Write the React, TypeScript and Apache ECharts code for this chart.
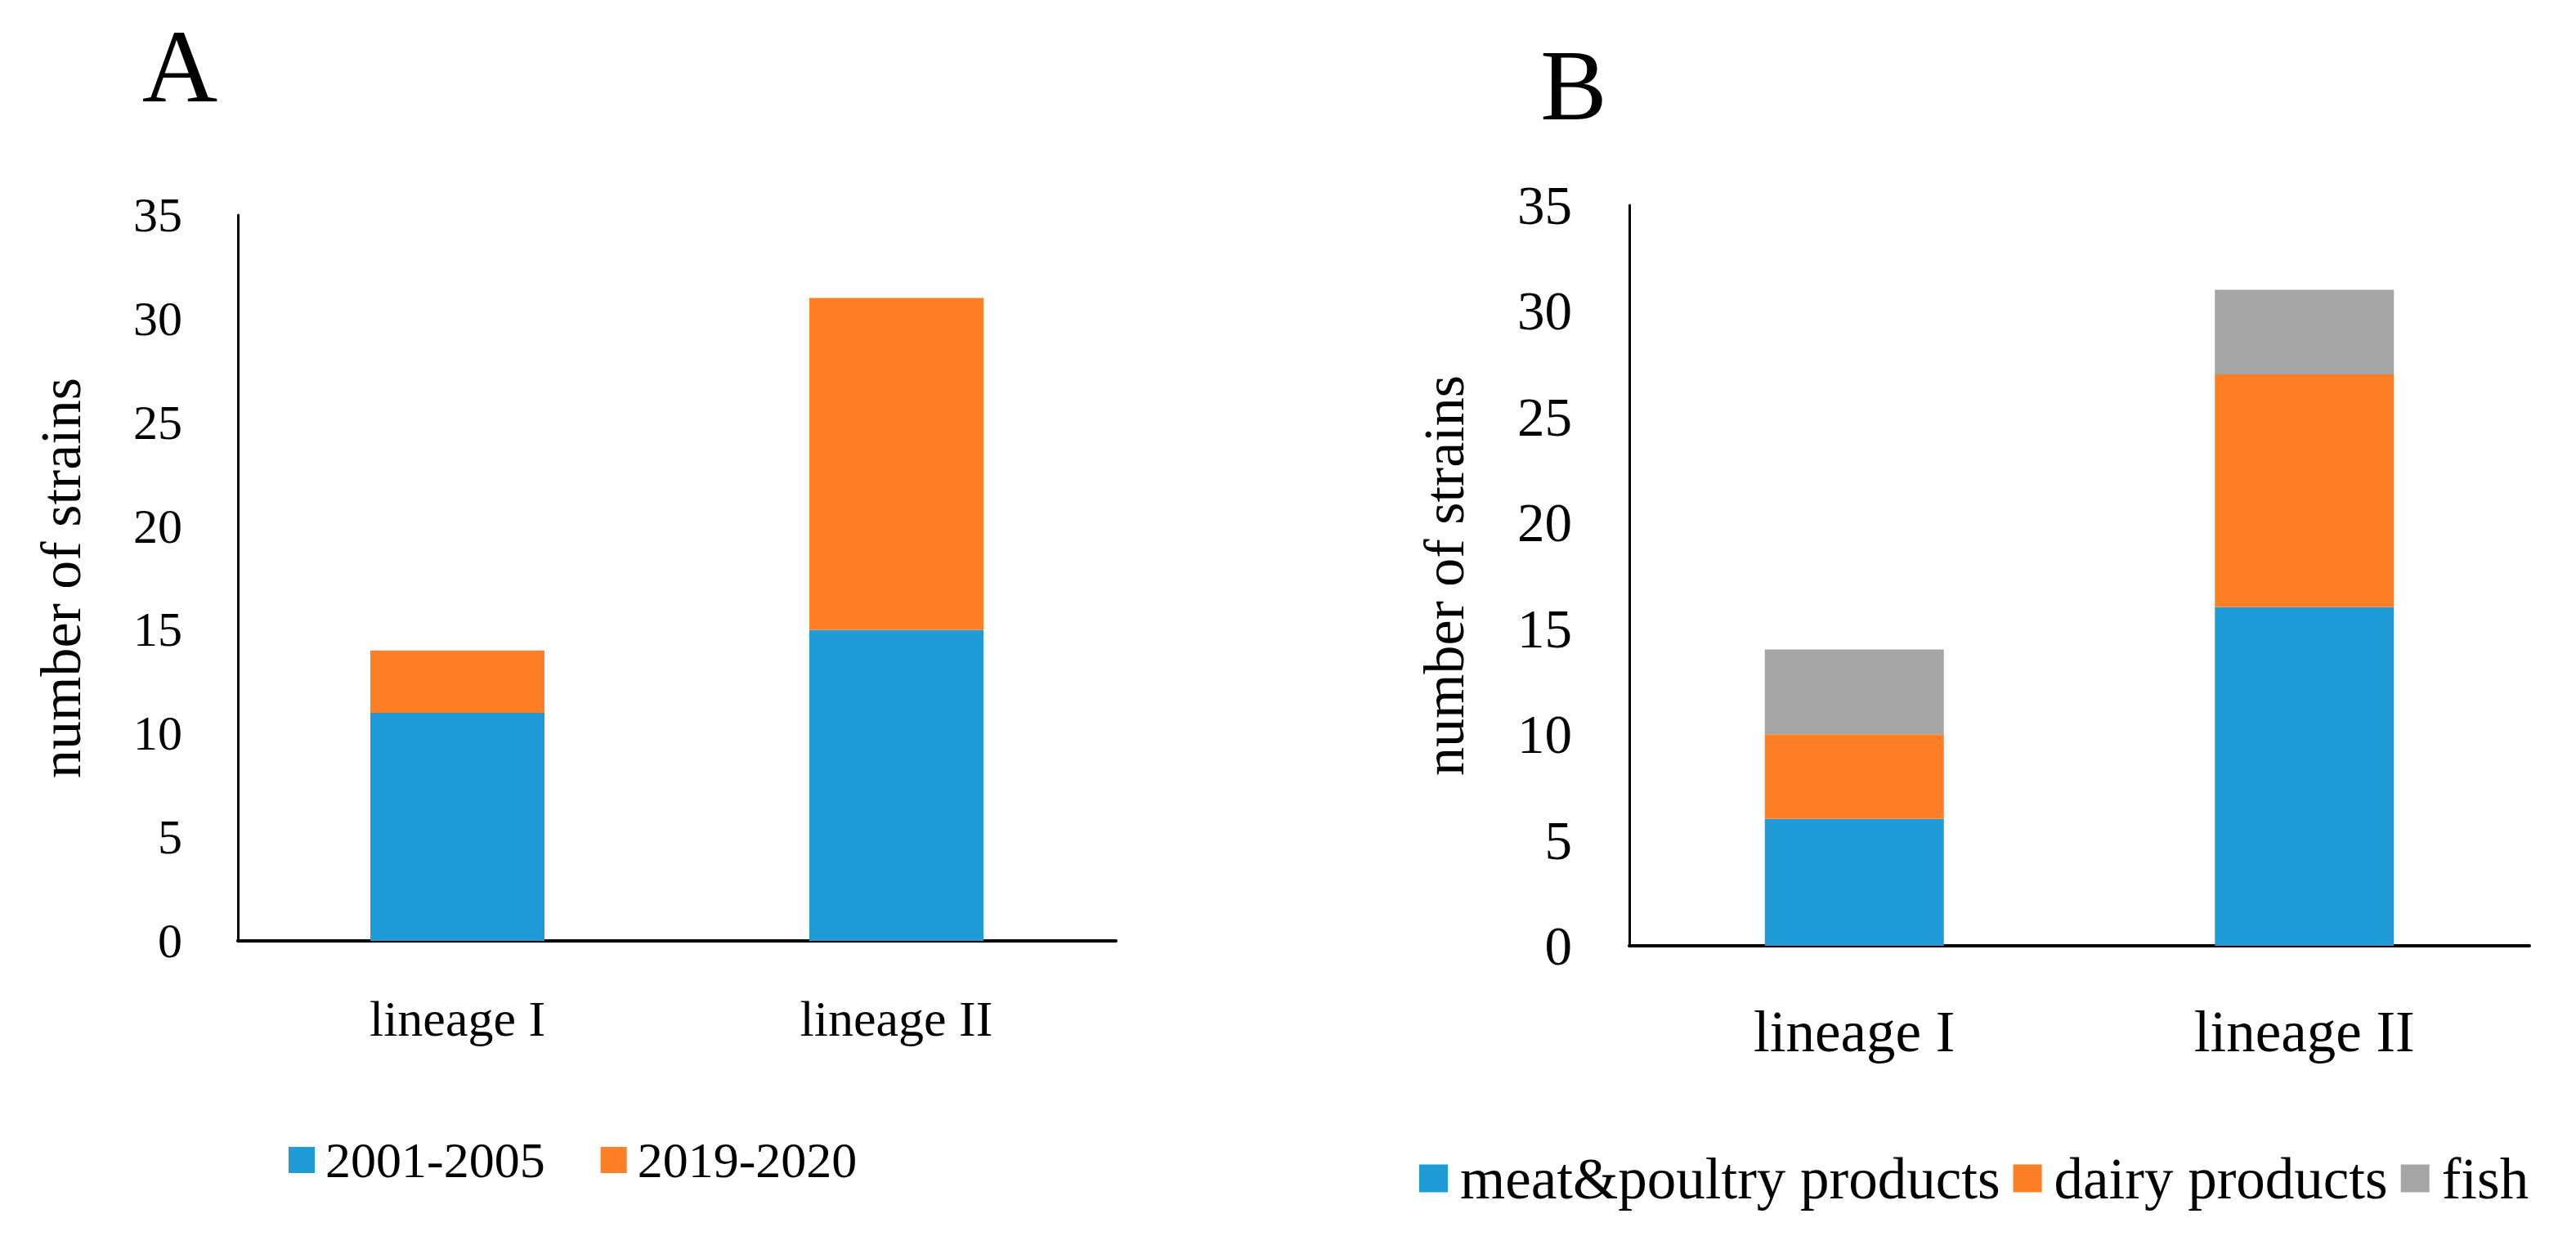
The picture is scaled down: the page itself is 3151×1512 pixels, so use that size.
import React, { useEffect, useRef } from "react";
import * as echarts from "echarts";

const categories = ["lineage I", "lineage II"];
const namesA = ["2001-2005", "2019-2020"];
const early2001to2005 = [11, 15];
const late2019to2020 = [3, 16];
const namesB = ["meat&poultry products", "dairy products", "fish"];
const meatPoultry = [6, 16];
const dairy = [4, 11];
const fish = [4, 4];
const yMin = 0;
const yMax = 35;
const yStep = 5;
const panelLabels = ["A", "B"];
const yTitle = "number of strains";

const FONT = "'Liberation Serif', 'Times New Roman', serif";
const BLUE = "#1F9BD7";
const ORANGE = "#FF7F27";
const GREY = "#A5A5A5";

export default function App() {
  const ref = useRef<HTMLDivElement>(null);
  useEffect(() => {
    document.body.style.margin = "0";
    if (!ref.current) return;
    const chart = echarts.init(ref.current, undefined, { renderer: "svg" });
    const yAxisBase = (grid: number, labelSize: number, margin: number, gap: number) => ({
      type: "value",
      gridIndex: grid,
      min: yMin,
      max: yMax,
      interval: yStep,
      axisLine: { show: true, lineStyle: { color: "#000", width: 3 } },
      axisTick: { show: false },
      splitLine: { show: false },
      axisLabel: { fontSize: labelSize, margin, color: "#000", fontFamily: FONT },
      name: yTitle,
      nameLocation: "middle",
      nameRotate: 90,
      nameGap: gap,
      nameTextStyle: { fontSize: 70, color: "#000", fontFamily: FONT },
    });
    const xAxisBase = (grid: number, labelSize: number, margin: number) => ({
      type: "category",
      gridIndex: grid,
      data: categories,
      axisLine: { show: true, lineStyle: { color: "#000", width: 4 } },
      axisTick: { show: false },
      axisLabel: { fontSize: labelSize, margin, color: "#000", fontFamily: FONT },
    });
    const option = {
      animation: false,
      backgroundColor: "#fff",
      grid: [
        { left: 291, top: 263, width: 1074, height: 888 },
        { left: 1993, top: 251, width: 1101, height: 906 },
      ],
      xAxis: [xAxisBase(0, 62, 64), xAxisBase(1, 71, 69)],
      yAxis: [yAxisBase(0, 60, 68, 182), yAxisBase(1, 67, 70, 192)],
      legend: [
        {
          data: namesA,
          left: 353,
          top: 1388,
          padding: 0,
          itemWidth: 32,
          itemHeight: 32,
          itemGap: 68,
          icon: "rect",
          textStyle: { fontSize: 62, color: "#000", fontFamily: FONT, padding: [0, 0, 0, 8] },
        },
        {
          data: namesB,
          left: 1736,
          top: 1406,
          padding: 0,
          itemWidth: 35,
          itemHeight: 34,
          itemGap: 16,
          icon: "rect",
          textStyle: { fontSize: 71, color: "#000", fontFamily: FONT, padding: [0, 0, 0, 10] },
        },
      ],
      graphic: [
        {
          type: "text",
          x: 220,
          y: 81,
          style: {
            text: panelLabels[0],
            font: `128px ${FONT}`,
            fill: "#000",
            textAlign: "center",
            textVerticalAlign: "middle",
          },
        },
        {
          type: "text",
          x: 1925,
          y: 104,
          style: {
            text: panelLabels[1],
            font: `122px ${FONT}`,
            fill: "#000",
            textAlign: "center",
            textVerticalAlign: "middle",
          },
        },
      ],
      series: [
        { type: "bar", name: namesA[0], xAxisIndex: 0, yAxisIndex: 0, stack: "A", data: early2001to2005, barWidth: 213, itemStyle: { color: BLUE } },
        { type: "bar", name: namesA[1], xAxisIndex: 0, yAxisIndex: 0, stack: "A", data: late2019to2020, barWidth: 213, itemStyle: { color: ORANGE } },
        { type: "bar", name: namesB[0], xAxisIndex: 1, yAxisIndex: 1, stack: "B", data: meatPoultry, barWidth: 219, itemStyle: { color: BLUE } },
        { type: "bar", name: namesB[1], xAxisIndex: 1, yAxisIndex: 1, stack: "B", data: dairy, barWidth: 219, itemStyle: { color: ORANGE } },
        { type: "bar", name: namesB[2], xAxisIndex: 1, yAxisIndex: 1, stack: "B", data: fish, barWidth: 219, itemStyle: { color: GREY } },
      ],
    };
    chart.setOption(option as any);
    return () => chart.dispose();
  }, []);
  return <div ref={ref} style={{ width: 3151, height: 1512 }} />;
}
